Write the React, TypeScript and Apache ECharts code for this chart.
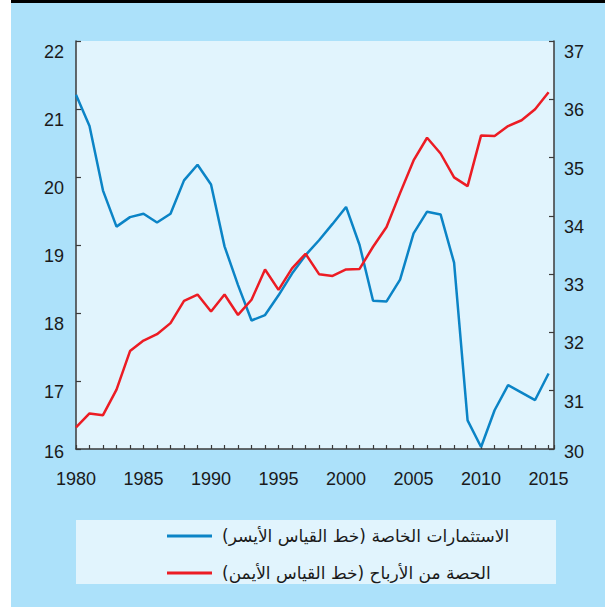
import React, { useEffect, useRef } from "react";
import * as echarts from "echarts";

const years = [
  1980, 1981, 1982, 1983, 1984, 1985, 1986, 1987, 1988, 1989, 1990, 1991, 1992,
  1993, 1994, 1995, 1996, 1997, 1998, 1999, 2000, 2001, 2002, 2003, 2004, 2005,
  2006, 2007, 2008, 2009, 2010, 2011, 2012, 2013, 2014, 2015,
];

// Private investment (left axis)
const privateInvestment = [
  21.21, 20.75, 19.8, 19.27, 19.41, 19.46, 19.33, 19.46, 19.95, 20.18, 19.89,
  18.98, 18.41, 17.89, 17.97, 18.26, 18.58, 18.85, 19.07, 19.31, 19.56, 19.0,
  18.18, 18.17, 18.49, 19.17, 19.49, 19.45, 18.74, 16.42, 16.03, 16.57, 16.94,
  16.83, 16.72, 17.11,
];

// Profit share (right axis)
const profitShare = [
  30.37, 30.61, 30.58, 31.02, 31.68, 31.86, 31.97, 32.16, 32.54, 32.65, 32.36,
  32.65, 32.3, 32.56, 33.08, 32.73, 33.1, 33.35, 33.0, 32.97, 33.08, 33.09,
  33.47, 33.81, 34.39, 34.95, 35.34, 35.07, 34.66, 34.51, 35.38, 35.37, 35.54,
  35.64, 35.83, 36.12,
];

const seriesNames = [
  "الاستثمارات الخاصة (خط القياس الأيسر)\u200F",
  "الحصة من الأرباح (خط القياس الأيمن)\u200F",
];

const leftTicks = [16, 17, 18, 19, 20, 21, 22];
const rightTicks = [30, 31, 32, 33, 34, 35, 36, 37];

const BLUE = "#0b84c6";
const RED = "#ec1c24";
const AXIS = "#3a3a3a";

export default function App() {
  const ref = useRef<HTMLDivElement>(null);

  useEffect(() => {
    document.body.style.margin = "0";
    const chart = echarts.init(ref.current!, null, { renderer: "svg" });
    const labelFont = {
      fontFamily: "Liberation Sans, Arial, sans-serif",
      fontSize: 18,
      color: "#1a1a1a",
    };
    const rich = {
      a: { ...labelFont, padding: [22, 0, 0, 0] },
      b: { ...labelFont, padding: [6, 0, 0, 0] },
    };
    chart.setOption({
      animation: false,
      backgroundColor: "#ffffff",
      graphic: [
        { type: "rect", shape: { x: 11, y: 0, width: 594, height: 607 }, style: { fill: "#ace1fa" }, z: -10 },
        { type: "rect", shape: { x: 11, y: 0, width: 594, height: 3 }, style: { fill: "#000000" }, z: -9 },
        { type: "rect", shape: { x: 76, y: 520, width: 480, height: 64 }, style: { fill: "#e1f4fd" }, z: -8 },
      ],
      grid: {
        left: 76,
        right: 51,
        top: 41,
        bottom: 158,
        show: true,
        backgroundColor: "#e1f4fd",
        borderWidth: 0,
      },
      legend: {
        orient: "vertical",
        left: 162,
        top: 520,
        itemWidth: 45,
        itemHeight: 3,
        itemGap: 15,
        icon: "rect",
        data: seriesNames,
        textStyle: {
          fontFamily: "DejaVu Sans, sans-serif",
          fontSize: 17,
          lineHeight: 22,
          color: "#1a1a1a",
          padding: [0, 0, 0, 5],
        },
      },
      xAxis: {
        type: "value",
        min: 1980,
        max: 2015.4,
        interval: 1,
        axisLine: { show: true, lineStyle: { color: AXIS, width: 1.5 } },
        axisTick: { show: true, inside: true, length: 4, lineStyle: { color: AXIS, width: 1.2 } },
        splitLine: { show: false },
        axisLabel: {
          ...labelFont,
          margin: 21,
          formatter: (v: number) => (Number.isInteger(v) && v % 5 === 0 ? String(v) : ""),
        },
      },
      yAxis: [
        {
          type: "value",
          min: leftTicks[0],
          max: leftTicks[leftTicks.length - 1],
          interval: 1,
          position: "left",
          axisLine: { show: true, lineStyle: { color: AXIS, width: 1.5 } },
          axisTick: { show: true, inside: true, length: 5, lineStyle: { color: AXIS, width: 1.2 } },
          splitLine: { show: false },
          axisLabel: {
            ...labelFont,
            margin: 12,
            formatter: (v: number) => (v === leftTicks[0] ? `{b|${v}}` : `{a|${v}}`),
            rich,
          },
        },
        {
          type: "value",
          min: rightTicks[0],
          max: rightTicks[rightTicks.length - 1],
          interval: 1,
          position: "right",
          axisLine: { show: true, lineStyle: { color: AXIS, width: 1.5 } },
          axisTick: { show: true, inside: true, length: 5, lineStyle: { color: AXIS, width: 1.2 } },
          splitLine: { show: false },
          axisLabel: {
            ...labelFont,
            margin: 10,
            formatter: (v: number) => (v === rightTicks[0] ? `{b|${v}}` : `{a|${v}}`),
            rich,
          },
        },
      ],
      series: [
        {
          name: seriesNames[0],
          type: "line",
          yAxisIndex: 0,
          showSymbol: false,
          color: BLUE,
          lineStyle: { color: BLUE, width: 2.5 },
          data: years.map((y, i) => [y, privateInvestment[i]]),
        },
        {
          name: seriesNames[1],
          type: "line",
          yAxisIndex: 1,
          showSymbol: false,
          color: RED,
          lineStyle: { color: RED, width: 2.5 },
          data: years.map((y, i) => [y, profitShare[i]]),
        },
      ],
    });
    return () => chart.dispose();
  }, []);

  return (
    <div
      ref={ref}
      style={{ position: "absolute", left: 0, top: 0, width: 605, height: 607 }}
    />
  );
}
